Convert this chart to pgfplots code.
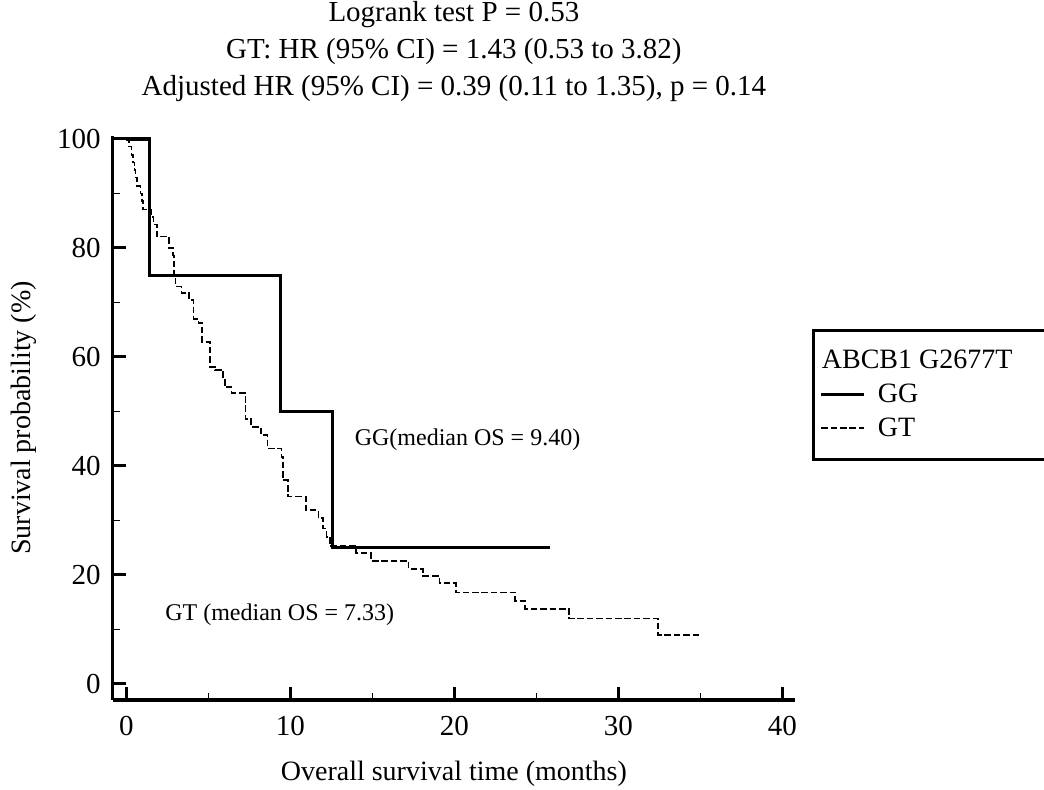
\documentclass[border=0pt]{standalone}
\usepackage{fontspec}
\setmainfont{Liberation Serif}
\usepackage{pgfplots}
\pgfplotsset{compat=1.18}
\begin{document}
\begin{tikzpicture}
\begin{axis}[
  at={(56.35pt,44.5pt)}, anchor=south west,
  scale only axis, width=341.2pt, height=282pt,
  xmin=-0.835, xmax=40.77, ymin=-2.94, ymax=100.55,
  axis lines=left,
  axis line style={-, line width=1.6pt},
  xtick={0,10,20,30,40}, ytick={0,20,40,60,80,100},
  minor xtick={5,15,25,35}, minor ytick={10,30,50,70,90},
  tick align=inside,
  major tick length=6.5pt, minor tick length=3.5pt,
  major tick style={line width=1.5pt, black},
  minor tick style={line width=0.8pt, black},
  tick label style={font=\fontsize{14.5}{17}\selectfont},
  xticklabel style={yshift=-4.5pt},
  yticklabel style={xshift=-2.5pt},
  /pgf/number format/assume math mode=true,
  xlabel={Overall survival time (months)},
  ylabel={Survival probability (\%)},
  xlabel style={at={(axis description cs:0.5,-0.1436)}, anchor=base, font=\fontsize{14}{17}\selectfont},
  ylabel style={at={(axis description cs:-0.1199,0.5)}, anchor=base, rotate=0, font=\fontsize{14}{17}\selectfont},
  title={Logrank test P = 0.53\\GT: HR (95\% CI) = 1.43 (0.53 to 3.82)\\Adjusted HR (95\% CI) = 0.39 (0.11 to 1.35), p = 0.14},
  every axis title/.style={at={(axis description cs:0.5,1.0603)}, anchor=south, align=center, inner sep=0pt, font=\fontsize{14.5}{18.5}\selectfont},
  clip=false,
  legend cell align=left,
  legend image code/.code={\draw[#1] (0pt,0pt) -- (21.5pt,0pt);},
  legend style={at={(1.025,0.658)}, anchor=north west, draw=black, line width=1.5pt,
    font=\fontsize{14}{17}\selectfont, inner xsep=3pt, inner ysep=8pt, row sep=2pt,
    column sep=4pt},
]
\addlegendimage{empty legend}
\addlegendentry{\hspace{-28pt}\makebox[120pt][l]{ABCB1 G2677T}}
\addplot[const plot, black, line width=1.6pt] coordinates {
(0,100) (1.4,75) (9.4,50) (12.55,25) (25.8,25)
};
\addlegendentry{GG}
\addplot[const plot, black, line width=0.8pt, dash pattern=on 3.3pt off 1.4pt] coordinates {
(0,100) (0.15,98.6) (0.3,97.1) (0.4,95.7) (0.5,94.3) (0.55,92.9) (0.65,91.4)
(0.85,90.0) (0.95,88.6) (1.0,87.1) (1.5,85.7) (1.65,84.3) (1.85,82.1)
(2.6,80.0) (2.85,78.6) (2.9,75.0) (3.0,72.9) (3.35,71.7) (3.8,70.5)
(4.1,67.0) (4.4,66.2) (4.6,62.8) (5.1,58.2) (5.4,57.6) (5.9,56.0)
(6.0,54.5) (6.4,53.4) (7.25,48.6) (7.6,47.2) (8.2,45.7) (8.6,43.2)
(9.45,41.7) (9.55,37.4) (9.85,34.4) (10.95,31.9) (11.7,30.5) (12.0,28.5)
(12.2,27.0) (12.4,25.3) (14.0,24.0) (14.9,22.6) (17.2,21.1) (18.1,19.8)
(19.1,18.5) (20.1,16.8) (23.7,15.2) (24.3,13.8) (27.0,12.0) (32.4,9.0)
(35.0,9.0)
};
\addlegendentry{GT}
\node[anchor=west, inner sep=0pt, font=\fontsize{12}{14}\selectfont] at (axis cs:13.9,44.8) {GG(median OS = 9.40)};
\node[anchor=west, inner sep=0pt, font=\fontsize{12}{14}\selectfont] at (axis cs:2.35,12.7) {GT (median OS = 7.33)};
\end{axis}
\pgfresetboundingbox
\useasboundingbox (0,0) rectangle (522pt,394.5pt);
\end{tikzpicture}
\end{document}
